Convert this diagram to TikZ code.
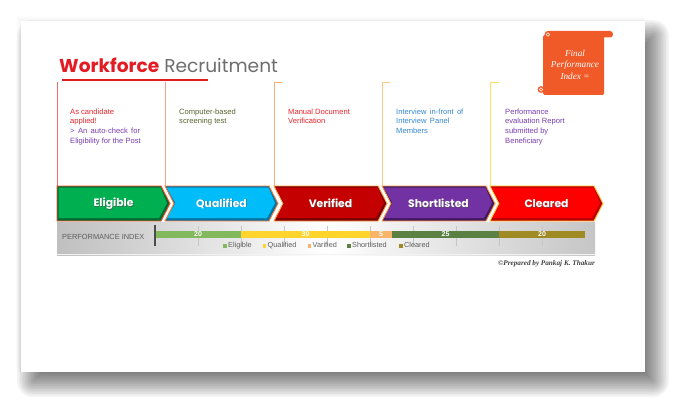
\documentclass[tikz,border=0pt]{standalone}
\usepackage{fontspec}
\setmainfont{Liberation Sans}
\newfontfamily\titlefont{Poppins}
\newfontfamily\serifit{Liberation Serif}
\definecolor{titlered}{HTML}{E31B23}
\definecolor{titlegray}{HTML}{6E6E6E}
\definecolor{vlA}{HTML}{F26B6B}
\definecolor{vlB}{HTML}{F7A088}
\definecolor{vlC}{HTML}{F9B07A}
\definecolor{vlD}{HTML}{FCCB86}
\definecolor{vlE}{HTML}{FFDF5E}
\definecolor{txred}{HTML}{E8262B}
\definecolor{txpurple}{HTML}{7A3DB0}
\definecolor{txolive}{HTML}{55652E}
\definecolor{txblue}{HTML}{3488D4}
\definecolor{scroll}{HTML}{F05A28}
\definecolor{chGreen}{HTML}{00B050}
\definecolor{chGreenD}{HTML}{006B35}
\definecolor{chBlue}{HTML}{00BCF8}
\definecolor{chBlueD}{HTML}{0076A8}
\definecolor{chDRed}{HTML}{C40000}
\definecolor{chDRedD}{HTML}{7A0000}
\definecolor{chPurple}{HTML}{7232A4}
\definecolor{chPurpleD}{HTML}{43185F}
\definecolor{chRed}{HTML}{FF0000}
\definecolor{chRedD}{HTML}{B80000}
\definecolor{chBorder}{HTML}{FF9A45}
\definecolor{bA}{HTML}{82B95C}
\definecolor{bB}{HTML}{FFD42C}
\definecolor{bC}{HTML}{F8B56A}
\definecolor{bD}{HTML}{5A8142}
\definecolor{bE}{HTML}{A08A24}
\definecolor{lgray}{HTML}{5E5E5E}
\tikzset{
  desc/.style={anchor=north west, inner sep=0pt, align=left,
    font=\fontsize{7.6}{9.7}\selectfont},
  chevtext/.style={inner sep=0pt, font=\titlefont\bfseries\fontsize{10.8}{12}\selectfont},
  vline/.style={line width=0.8pt},
  barlabel/.style={inner sep=0pt, text=white, font=\bfseries\fontsize{7}{8}\selectfont},
  legtext/.style={anchor=base west, inner sep=0pt, text=lgray, font=\fontsize{7.3}{8}\selectfont},
}
% #1 x, #2 main, #3 dark, #4 label, #5 name, #6 notch (1 or 0), #7 border
\newcommand\chevshape[7]{%
  \fill[#3] (#1,186) -- ({#1+104},186) -- ({#1+113},203.5) -- ({#1+104},221) -- (#1,221) -- ({#1+9*#6},203.5) -- cycle;
  \fill[#2] ({#1+1.5},187.5) -- ({#1+103.5},187.5) -- ({#1+110},203) -- ({#1+102},218) -- ({#1+1.5},218) -- ({#1+1.5+9*#6},203) -- cycle;
  \draw[#7, line width=0.9pt, line join=miter] (#1,186) -- ({#1+104},186) -- ({#1+113},203.5) -- ({#1+104},221) -- (#1,221) -- ({#1+9*#6},203.5) -- cycle;
  \node[chevtext, text=black!70, opacity=0.6] (#5sh) at ({#1+56.5+0.7},{203.5+0.7}) {#4};
  \node[chevtext, text=white] (#5) at ({#1+56.5},203.5) {#4};
}
\begin{document}
\begin{tikzpicture}[x=1pt,y=-1pt]
\useasboundingbox (0,0) rectangle (687,414);
\fill[white] (0,0) rectangle (687,414);
% soft shadow of the page
\foreach \r in {0,...,15}{
  \pgfmathsetmacro\e{16-1.6*\r}
  \fill[black, opacity=0.04, rounded corners={max(\e,0.1)*1pt}]
    ({33-\e},{36-\e}) rectangle ({653+\e},{381+\e});
}
\foreach \r in {0,...,5}{
  \fill[black, opacity=0.008] ({21-\r},{21-\r}) rectangle ({645},{372});
}
\fill[white] (21,21) rectangle (645,372);

% title
\node[anchor=base west, inner sep=0pt, font=\titlefont\fontsize{18.6}{22}\selectfont] (title) at (59,72.5)
  {\textcolor{titlered}{\bfseries Workforce} \textcolor{titlegray}{Recruitment}};
\draw[titlered, line width=2pt] (62,80.5) -- (208,80.5);

% vertical lines
\draw[vline, vlA] (57,186) -- (57,82);
\draw[vline, vlB] (165,186) -- (165,82);
\draw[vline, vlC] (274,186) -- (274,82) -- (282,82);
\draw[vline, vlD] (382,186) -- (382,82) -- (390,82);
\draw[vline, vlE] (490,186) -- (490,82) -- (499,82);

% descriptions
\node[desc] (d1) at (70,108.5) {\textcolor{txred}{As candidate}\\\textcolor{txred}{applied!}\\\textcolor{txpurple}{>\, An\, auto-check\, for}\\\textcolor{txpurple}{Eligibility for the Post}};
\node[desc, text=txolive] (d2) at (179,108.5) {Computer-based\\screening test};
\node[desc, text=txred] (d3) at (288,108.5) {Manual Document\\Verification};
\node[desc, text=txblue] (d4) at (396,108.5) {Interview\, in-front\, of\\Interview\, Panel\\Members};
\node[desc, text=txpurple] (d5) at (505,108.5) {Performance\\evaluation Report\\submitted by\\Beneficiary};

% scroll
\fill[scroll, rounded corners=1.5pt] (543,35) rectangle (604,95);
\fill[scroll, rounded corners=3pt] (545,31) rectangle (613,37.5);
\fill[scroll] (548,34.5) circle (3.4pt);
\draw[white, line width=0.6pt] (548,34.5) circle (1.7pt);
\fill[scroll] (541,89.5) circle (3.4pt);
\draw[white, line width=0.6pt] (541,89.5) circle (1.7pt);
\node[align=center, text=white, inner sep=0pt, font=\serifit\itshape\fontsize{9.2}{11.5}\selectfont] (fpi) at (575,64.5) {Final\\Performance\\Index =};

% chevrons
\chevshape{490}{chRed}{chRedD}{Cleared}{c5}{1}{chBorder!60!yellow}
\chevshape{382}{chPurple}{chPurpleD}{Shortlisted}{c4}{1}{chBorder}
\chevshape{274}{chDRed}{chDRedD}{Verified}{c3}{1}{chBorder}
\chevshape{165}{chBlue}{chBlueD}{Qualified}{c2}{1}{chBorder!80!red}
\chevshape{57}{chGreen}{chGreenD}{Eligible}{c1}{0}{chBorder!50!red}

% performance band
\shade[left color=gray!50, right color=gray!45, middle color=white] (57,222) rectangle (595,255);
\draw[white!90!gray, line width=0.6pt] (57,254.6) -- (595,254.6);
\node[anchor=base west, inner sep=0pt, text=lgray, font=\fontsize{7.4}{9}\selectfont] (pi) at (62,239) {PERFORMANCE INDEX};
\foreach \k in {1,...,10} \draw[gray!45, line width=0.4pt] ({155+43*\k},226) -- ({155+43*\k},245.5);
\fill[bA] (155,230.5) rectangle (241,238) node[barlabel, midway] (v1) {20};
\fill[bB] (241,230.5) rectangle (370,238) node[barlabel, midway] (v2) {30};
\fill[bC] (370,230.5) rectangle (392,238) node[barlabel, midway] (v3) {5};
\fill[bD] (392,230.5) rectangle (499,238) node[barlabel, midway] (v4) {25};
\fill[bE] (499,230.5) rectangle (585,238) node[barlabel, midway] (v5) {20};
\draw[gray!60!black, line width=1.3pt] (155,225) -- (155,246);

% legend
\fill[bA] (223,244) rectangle (226.5,247.5);
\node[legtext] (l1) at (228,247.5) {Eligible};
\fill[bB] (262.5,244) rectangle (266,247.5);
\node[legtext] (l2) at (267.5,247.5) {Qualified};
\fill[bC] (307.5,244) rectangle (311,247.5);
\node[legtext] (l3) at (312.5,247.5) {Varified};
\fill[bD] (347,244) rectangle (350.5,247.5);
\node[legtext] (l4) at (352,247.5) {Shortlisted};
\fill[bE] (399,244) rectangle (402.5,247.5);
\node[legtext] (l5) at (404,247.5) {Cleared};

% credit
\node[anchor=base east, inner sep=0pt, text=black!75, font=\serifit\itshape\bfseries\fontsize{7.2}{9}\selectfont] (credit) at (595,265.5) {\textcopyright Prepared by Pankaj K. Thakur};
\end{tikzpicture}
\end{document}
